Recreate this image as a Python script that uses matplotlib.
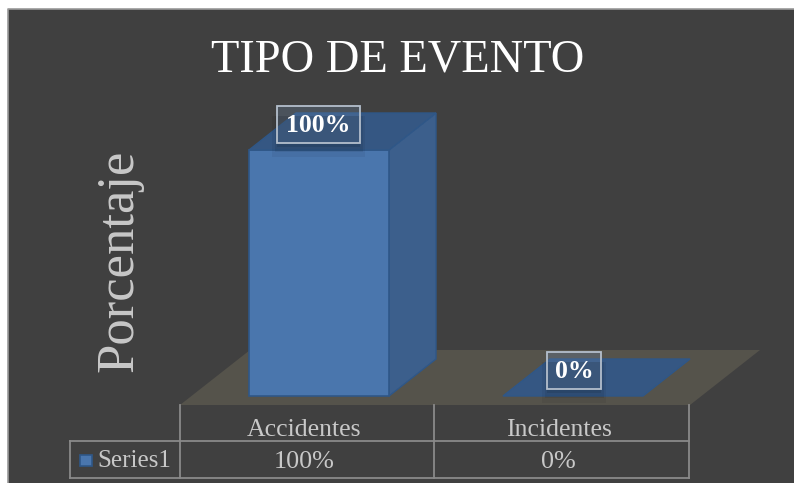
import matplotlib
matplotlib.use("Agg")
import matplotlib.pyplot as plt
from matplotlib.patches import Polygon, Rectangle

categories = ["Accidentes", "Incidentes"]
values = [100, 0]
value_labels = ["100%", "0%"]
series_name = "Series1"
title = "TIPO DE EVENTO"
y_title = "Porcentaje"

plt.rcParams["font.family"] = ["Liberation Serif", "DejaVu Serif"]

BG = "#404040"
GRID = "#8a8a8a"
TXT = "#c8c8c8"
FRONT = "#4a76ad"
SIDE = "#3c5f8c"
TOP = "#355783"
EDGE = "#2f5788"

# everything is laid out in image pixels, y going down
fig = plt.figure(figsize=(7.94, 4.83), dpi=100, facecolor="white")
ax = fig.add_axes([0, 0, 1, 1])
ax.set_xlim(0, 794)
ax.set_ylim(483, 0)
ax.axis("off")

# background only has a visible border on top and left
ax.add_patch(Rectangle((8, 9), 790, 480, fc=BG, ec="none"))
ax.plot([8, 8, 794], [483, 9, 9], color="#9a9a9a", lw=1.2)

# floor
ax.add_patch(Polygon([(180, 405), (690, 405), (760, 350), (250, 350)], fc="#55534b", ec="none"))

base_y = 396
px_per_pct = 2.46
dx, dy = 47, -37
bar_left = [249, 503]
bar_w = 140


def draw_bar(x, val):
    h = val * px_per_pct
    top = base_y - h
    if h > 0:
        ax.add_patch(Polygon([(x + bar_w, base_y), (x + bar_w + dx, base_y + dy),
                              (x + bar_w + dx, top + dy), (x + bar_w, top)],
                             fc=SIDE, ec=EDGE, lw=1))
        ax.add_patch(Rectangle((x, top), bar_w, h, fc=FRONT, ec=EDGE, lw=1.2))
    ax.add_patch(Polygon([(x, top), (x + bar_w, top), (x + bar_w + dx, top + dy), (x + dx, top + dy)],
                         fc=TOP, ec=EDGE, lw=1))
    return top


label_pos = [(318.5, 124), (574, 370)]
label_w = [83, 54]
for i in range(len(values)):
    draw_bar(bar_left[i], values[i])
    cx, cy = label_pos[i]
    w = label_w[i]
    # soft shadow under the label
    for grow, a in [(14, 0.05), (9, 0.07), (4, 0.09)]:
        ax.add_patch(Rectangle((cx - w / 2 + 2 - grow / 2, cy - 8), w + grow - 4, 27 + grow,
                               fc="black", alpha=a, ec="none"))
    ax.add_patch(Rectangle((cx - w / 2, cy - 18.5), w, 37, fc="#6d8cb3", alpha=0.25, ec="none"))
    ax.add_patch(Rectangle((cx - w / 2, cy - 18.5), w, 37, fc="none", ec="#b4bfcc", lw=1.3))
    ax.text(cx, cy + 2, value_labels[i], color="white", fontsize=18.5, fontweight="bold",
            ha="center", va="center")

# data table
col_x = [180, 434, 689]
ax.plot([70, 689], [441, 441], color=GRID, lw=1.3)
ax.plot([70, 689], [478, 478], color=GRID, lw=1.3)
ax.plot([70, 70], [441, 478], color=GRID, lw=1.3)
for x in col_x:
    ax.plot([x, x], [405, 478], color=GRID, lw=1.3)

for i, c in enumerate(categories):
    xm = (col_x[i] + col_x[i + 1]) / 2
    ax.text(xm - 3, 430.5, c, color=TXT, fontsize=18.5, ha="center", va="center")
    ax.text(xm - 3, 462, value_labels[i], color=TXT, fontsize=18.8, ha="center", va="center")

ax.add_patch(Rectangle((80, 455), 12, 11, fc=FRONT, ec=EDGE, lw=1.2))
ax.text(97, 461, series_name, color=TXT, fontsize=18, ha="left", va="center")

ax.text(398, 60, title, color="white", fontsize=33.5, ha="center", va="center")
ax.text(119, 261, y_title, color=TXT, fontsize=38, rotation=90, ha="center", va="center")

fig.savefig("out.png", dpi=100)
plt.close()
